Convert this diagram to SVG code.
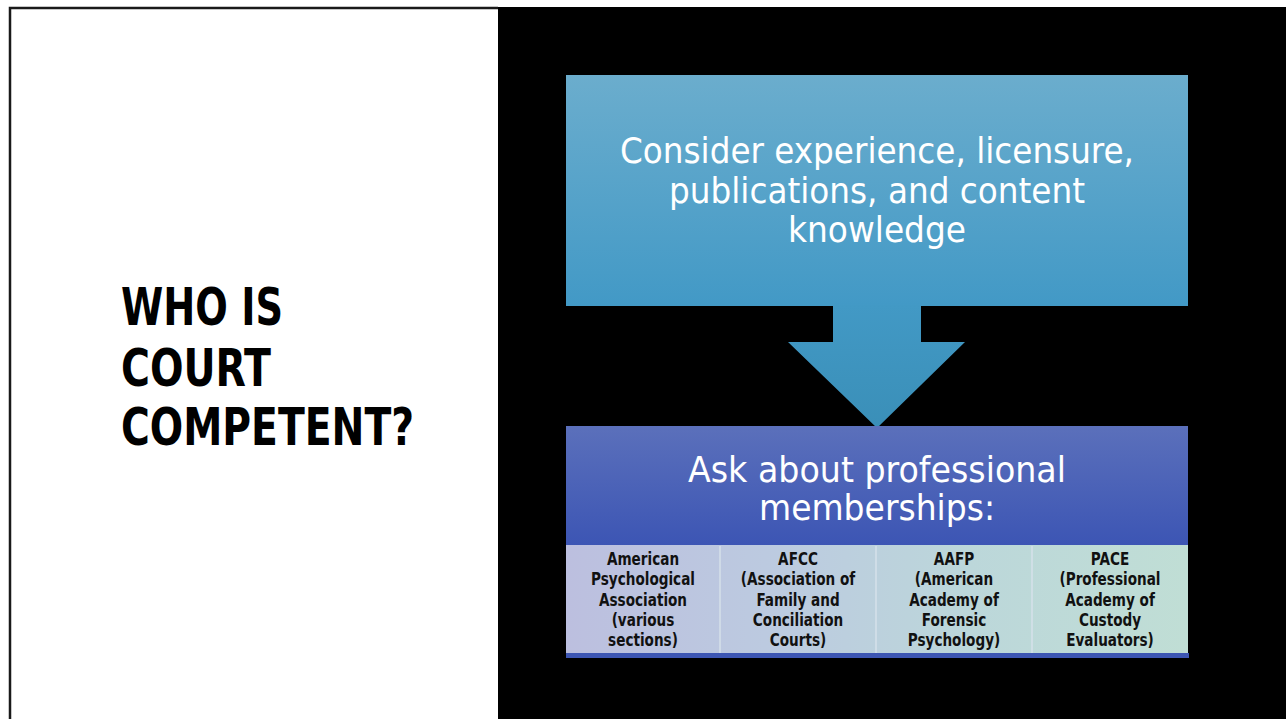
<svg xmlns="http://www.w3.org/2000/svg" width="1286" height="719" viewBox="0 0 1286 719">
  <defs>
    <linearGradient id="gTop" x1="0" y1="0" x2="0" y2="1">
      <stop offset="0" stop-color="#6badcd"/>
      <stop offset="1" stop-color="#4299c6"/>
    </linearGradient>
    <linearGradient id="gArrow" x1="0" y1="0" x2="0" y2="1">
      <stop offset="0" stop-color="#4299c5"/>
      <stop offset="1" stop-color="#3a8fb8"/>
    </linearGradient>
    <linearGradient id="gHead" x1="0" y1="0" x2="0" y2="1">
      <stop offset="0" stop-color="#5b70bb"/>
      <stop offset="1" stop-color="#3c55b4"/>
    </linearGradient>
    <linearGradient id="gCells" x1="0" y1="0" x2="1" y2="0">
      <stop offset="0" stop-color="#bcbfdf"/>
      <stop offset="0.35" stop-color="#bccbe0"/>
      <stop offset="0.65" stop-color="#bcd7da"/>
      <stop offset="1" stop-color="#c0ded5"/>
    </linearGradient>
    <style>
      .title { font-family: "Liberation Sans Narrow", "DejaVu Sans Condensed", "Liberation Sans", sans-serif; font-weight: bold; font-size: 52px; fill: #000; }
      .big { font-family: "Liberation Sans Narrow", "DejaVu Sans Condensed", "Liberation Sans", sans-serif; font-size: 36px; fill: #fff; text-anchor: middle; }
      .cell { font-family: "Liberation Sans Narrow", "DejaVu Sans Condensed", "Liberation Sans", sans-serif; font-weight: bold; font-size: 18px; fill: #111; text-anchor: middle; }
      .sep { stroke: #d6e0ea; stroke-width: 1.5; }
    </style>
  </defs>

  <!-- page background and frame -->
  <rect x="0" y="0" width="1286" height="719" fill="#ffffff"/>
  <rect x="498" y="7" width="788" height="712" fill="#000000"/>
  <path d="M10 719 V8 H498" fill="none" stroke="#1a1a1a" stroke-width="2.5"/>

  <!-- title -->
  <g id="title">
    <text class="title" x="121" y="325" textLength="162" lengthAdjust="spacingAndGlyphs">WHO IS</text>
    <text class="title" x="121" y="386" textLength="150" lengthAdjust="spacingAndGlyphs">COURT</text>
    <text class="title" x="121" y="445" textLength="293" lengthAdjust="spacingAndGlyphs">COMPETENT?</text>
  </g>

  <!-- first step -->
  <g id="consider">
    <rect x="566" y="75" width="622" height="231" fill="url(#gTop)"/>
    <text class="big" x="877" y="163" textLength="514" lengthAdjust="spacingAndGlyphs">Consider experience, licensure,</text>
    <text class="big" x="877" y="203" textLength="416" lengthAdjust="spacingAndGlyphs">publications, and content</text>
    <text class="big" x="877" y="242" textLength="178" lengthAdjust="spacingAndGlyphs">knowledge</text>
  </g>

  <!-- connector -->
  <g id="connectors">
    <path d="M833 305 H921 V342 H965 L877 428 L788 342 H833 Z" fill="url(#gArrow)"/>
  </g>

  <!-- second step -->
  <g id="memberships">
    <rect x="566" y="426" width="622" height="120" fill="url(#gHead)"/>
    <text class="big" x="877" y="482" textLength="378" lengthAdjust="spacingAndGlyphs">Ask about professional</text>
    <text class="big" x="877" y="520" textLength="236" lengthAdjust="spacingAndGlyphs">memberships:</text>
  </g>

  <!-- organisations row -->
  <g id="organisations">
    <rect x="566" y="545" width="622" height="109" fill="url(#gCells)"/>
    <line class="sep" x1="720" y1="546" x2="720" y2="653"/>
    <line class="sep" x1="876" y1="546" x2="876" y2="653"/>
    <line class="sep" x1="1032" y1="546" x2="1032" y2="653"/>
    <rect x="566" y="653" width="623" height="5" fill="#3d56b3"/>
  </g>

  <!-- each cell's text is narrowed horizontally around its centre -->
  <g id="apa" transform="translate(643 0) scale(0.84 1)">
    <text class="cell" x="0" y="565">American</text>
    <text class="cell" x="0" y="585">Psychological</text>
    <text class="cell" x="0" y="606">Association</text>
    <text class="cell" x="0" y="626">(various</text>
    <text class="cell" x="0" y="646">sections)</text>
  </g>
  <g id="afcc" transform="translate(798 0) scale(0.84 1)">
    <text class="cell" x="0" y="565">AFCC</text>
    <text class="cell" x="0" y="585">(Association of</text>
    <text class="cell" x="0" y="606">Family and</text>
    <text class="cell" x="0" y="626">Conciliation</text>
    <text class="cell" x="0" y="646">Courts)</text>
  </g>
  <g id="aafp" transform="translate(954 0) scale(0.84 1)">
    <text class="cell" x="0" y="565">AAFP</text>
    <text class="cell" x="0" y="585">(American</text>
    <text class="cell" x="0" y="606">Academy of</text>
    <text class="cell" x="0" y="626">Forensic</text>
    <text class="cell" x="0" y="646">Psychology)</text>
  </g>
  <g id="pace" transform="translate(1110 0) scale(0.84 1)">
    <text class="cell" x="0" y="565">PACE</text>
    <text class="cell" x="0" y="585">(Professional</text>
    <text class="cell" x="0" y="606">Academy of</text>
    <text class="cell" x="0" y="626">Custody</text>
    <text class="cell" x="0" y="646">Evaluators)</text>
  </g>
</svg>
